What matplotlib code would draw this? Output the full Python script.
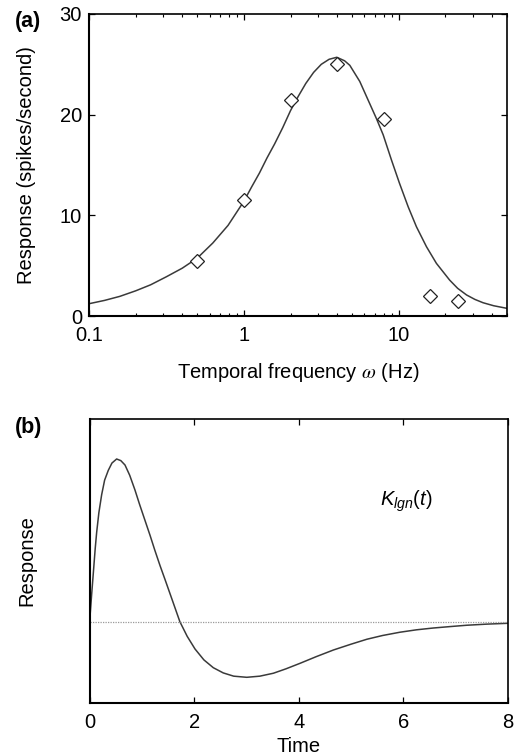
import matplotlib
matplotlib.use("Agg")
import matplotlib.pyplot as plt
from matplotlib.ticker import LogLocator, NullFormatter, FixedLocator

plt.rcParams['font.family'] = ['Liberation Sans', 'DejaVu Sans']
plt.rcParams['mathtext.fontset'] = 'custom'
plt.rcParams['mathtext.it'] = 'Liberation Sans:italic'
plt.rcParams['mathtext.rm'] = 'Liberation Sans'

# panel (a): measured responses (diamonds)
freq_pts = [0.5, 1, 2, 4, 8, 16, 24]
resp_pts = [5.5, 11.5, 21.5, 25.0, 19.6, 2.0, 1.5]

# panel (a): fitted curve
freq_fit = [0.1, 0.126, 0.158, 0.2, 0.25, 0.316, 0.4, 0.5, 0.63, 0.79, 1.0,
            1.12, 1.26, 1.41, 1.58, 1.78, 2.0, 2.24, 2.51, 2.82, 3.16, 3.55,
            3.98, 4.47, 4.83, 5.6, 6.34, 7.18, 7.93, 8.97, 10.1, 11.5, 13.0,
            15.1, 17.5, 21.3, 24.0, 27.4, 31.0, 35.0, 41.0, 50.0]
resp_fit = [1.22, 1.55, 1.95, 2.5, 3.1, 3.9, 4.75, 5.75, 7.25, 9.0, 11.4,
            12.8, 14.2, 15.7, 17.1, 18.7, 20.4, 21.8, 23.1, 24.2, 25.0, 25.5,
            25.7, 25.35, 24.9, 23.3, 21.45, 19.6, 18.0, 15.5, 13.2, 10.85, 8.87,
            6.88, 5.23, 3.57, 2.75, 2.09, 1.65, 1.32, 1.02, 0.76]

# panel (b): K_lgn(t) (arbitrary units, peak = 1)
time_k = [0.0, 0.03, 0.064, 0.1, 0.128, 0.17, 0.223, 0.28, 0.35, 0.42, 0.51,
          0.59, 0.67, 0.76, 0.86, 0.95, 1.05, 1.15, 1.24, 1.34, 1.435, 1.58,
          1.72, 1.86, 2.01, 2.18, 2.36, 2.55, 2.75, 3.0, 3.25, 3.51, 3.75,
          4.02, 4.33, 4.66, 5.0, 5.3, 5.6, 5.93, 6.25, 6.57, 6.9, 7.21, 7.6, 8.0]
resp_k = [0.03, 0.16, 0.30, 0.45, 0.55, 0.67, 0.78, 0.87, 0.93, 0.975, 1.0,
          0.99, 0.963, 0.90, 0.81, 0.72, 0.625, 0.53, 0.44, 0.345, 0.26, 0.128,
          0.0, -0.09, -0.168, -0.235, -0.283, -0.315, -0.335, -0.342, -0.335,
          -0.317, -0.29, -0.256, -0.215, -0.174, -0.138, -0.108, -0.085, -0.065,
          -0.05, -0.039, -0.03, -0.022, -0.015, -0.01]

line_col = '#3a3a3a'
fs = 14.5

fig = plt.figure(figsize=(5.16, 7.56), dpi=100)

# ---- (a)
ax1 = fig.add_axes([0.1725, 0.582, 0.8101, 0.3995])
ax1.semilogx(freq_fit, resp_fit, color=line_col, lw=1.1)
ax1.plot(freq_pts, resp_pts, 'D', ms=7.5, mfc='white', mec='#222222', mew=0.9)
ax1.set_xlim(0.1, 50)
ax1.set_ylim(0, 30)
ax1.set_yticks([0, 10, 20, 30])
ax1.set_xticks([0.1, 1, 10])
ax1.set_xticklabels(['0.1', '1', '10'])
ax1.xaxis.set_minor_locator(LogLocator(base=10, subs=range(2, 10)))
ax1.xaxis.set_minor_formatter(NullFormatter())
ax1.tick_params(which='both', direction='in', top=True, right=True, labelsize=fs)
ax1.tick_params(which='major', length=4, width=0.9)
ax1.tick_params(which='minor', length=2.5, width=0.8)
ax1.tick_params(axis='x', pad=7)
ax1.tick_params(axis='y', pad=5)
ax1.set_xlabel(r'Temporal frequency $\omega$ (Hz)', fontsize=fs, math_fontfamily='stix')
ax1.set_ylabel('Response (spikes/second)', fontsize=fs)
ax1.xaxis.set_label_coords(0.5, -0.148)
ax1.yaxis.set_label_coords(-0.127, 0.5)
fig.text(0.029, 0.972, '(a)', fontsize=15.5, fontweight='bold', va='center')

# ---- (b)
ax2 = fig.add_axes([0.1744, 0.0701, 0.8101, 0.3757])
ax2.plot(time_k, resp_k, color=line_col, lw=1.1)
ax2.axhline(0, color='#9a9a9a', lw=0.9, ls=(0, (1, 1)))
ax2.set_xlim(0, 8)
ax2.set_ylim(-0.5, 1.246)
ax2.xaxis.set_major_locator(FixedLocator([0, 2, 4, 6, 8]))
ax2.set_yticks([])
ax2.tick_params(axis='x', direction='in', top=True, labelsize=fs, length=4,
                width=0.9, pad=7)
ax2.set_xlabel('Time', fontsize=fs)
ax2.set_ylabel('Response', fontsize=fs)
ax2.xaxis.set_label_coords(0.5, -0.12)
ax2.yaxis.set_label_coords(-0.129, 0.5)
ax2.text(5.55, 0.71, r'$K_{lgn}$(' + r'$t$' + ')', fontsize=fs, va='baseline')
fig.text(0.029, 0.434, '(b)', fontsize=15.5, fontweight='bold', va='center')

for ax in (ax1, ax2):
    for s in ax.spines.values():
        s.set_linewidth(1.2)
    ax.spines['left'].set_linewidth(1.5)
    ax.spines['bottom'].set_linewidth(1.5)

fig.savefig('out.png', dpi=100)
